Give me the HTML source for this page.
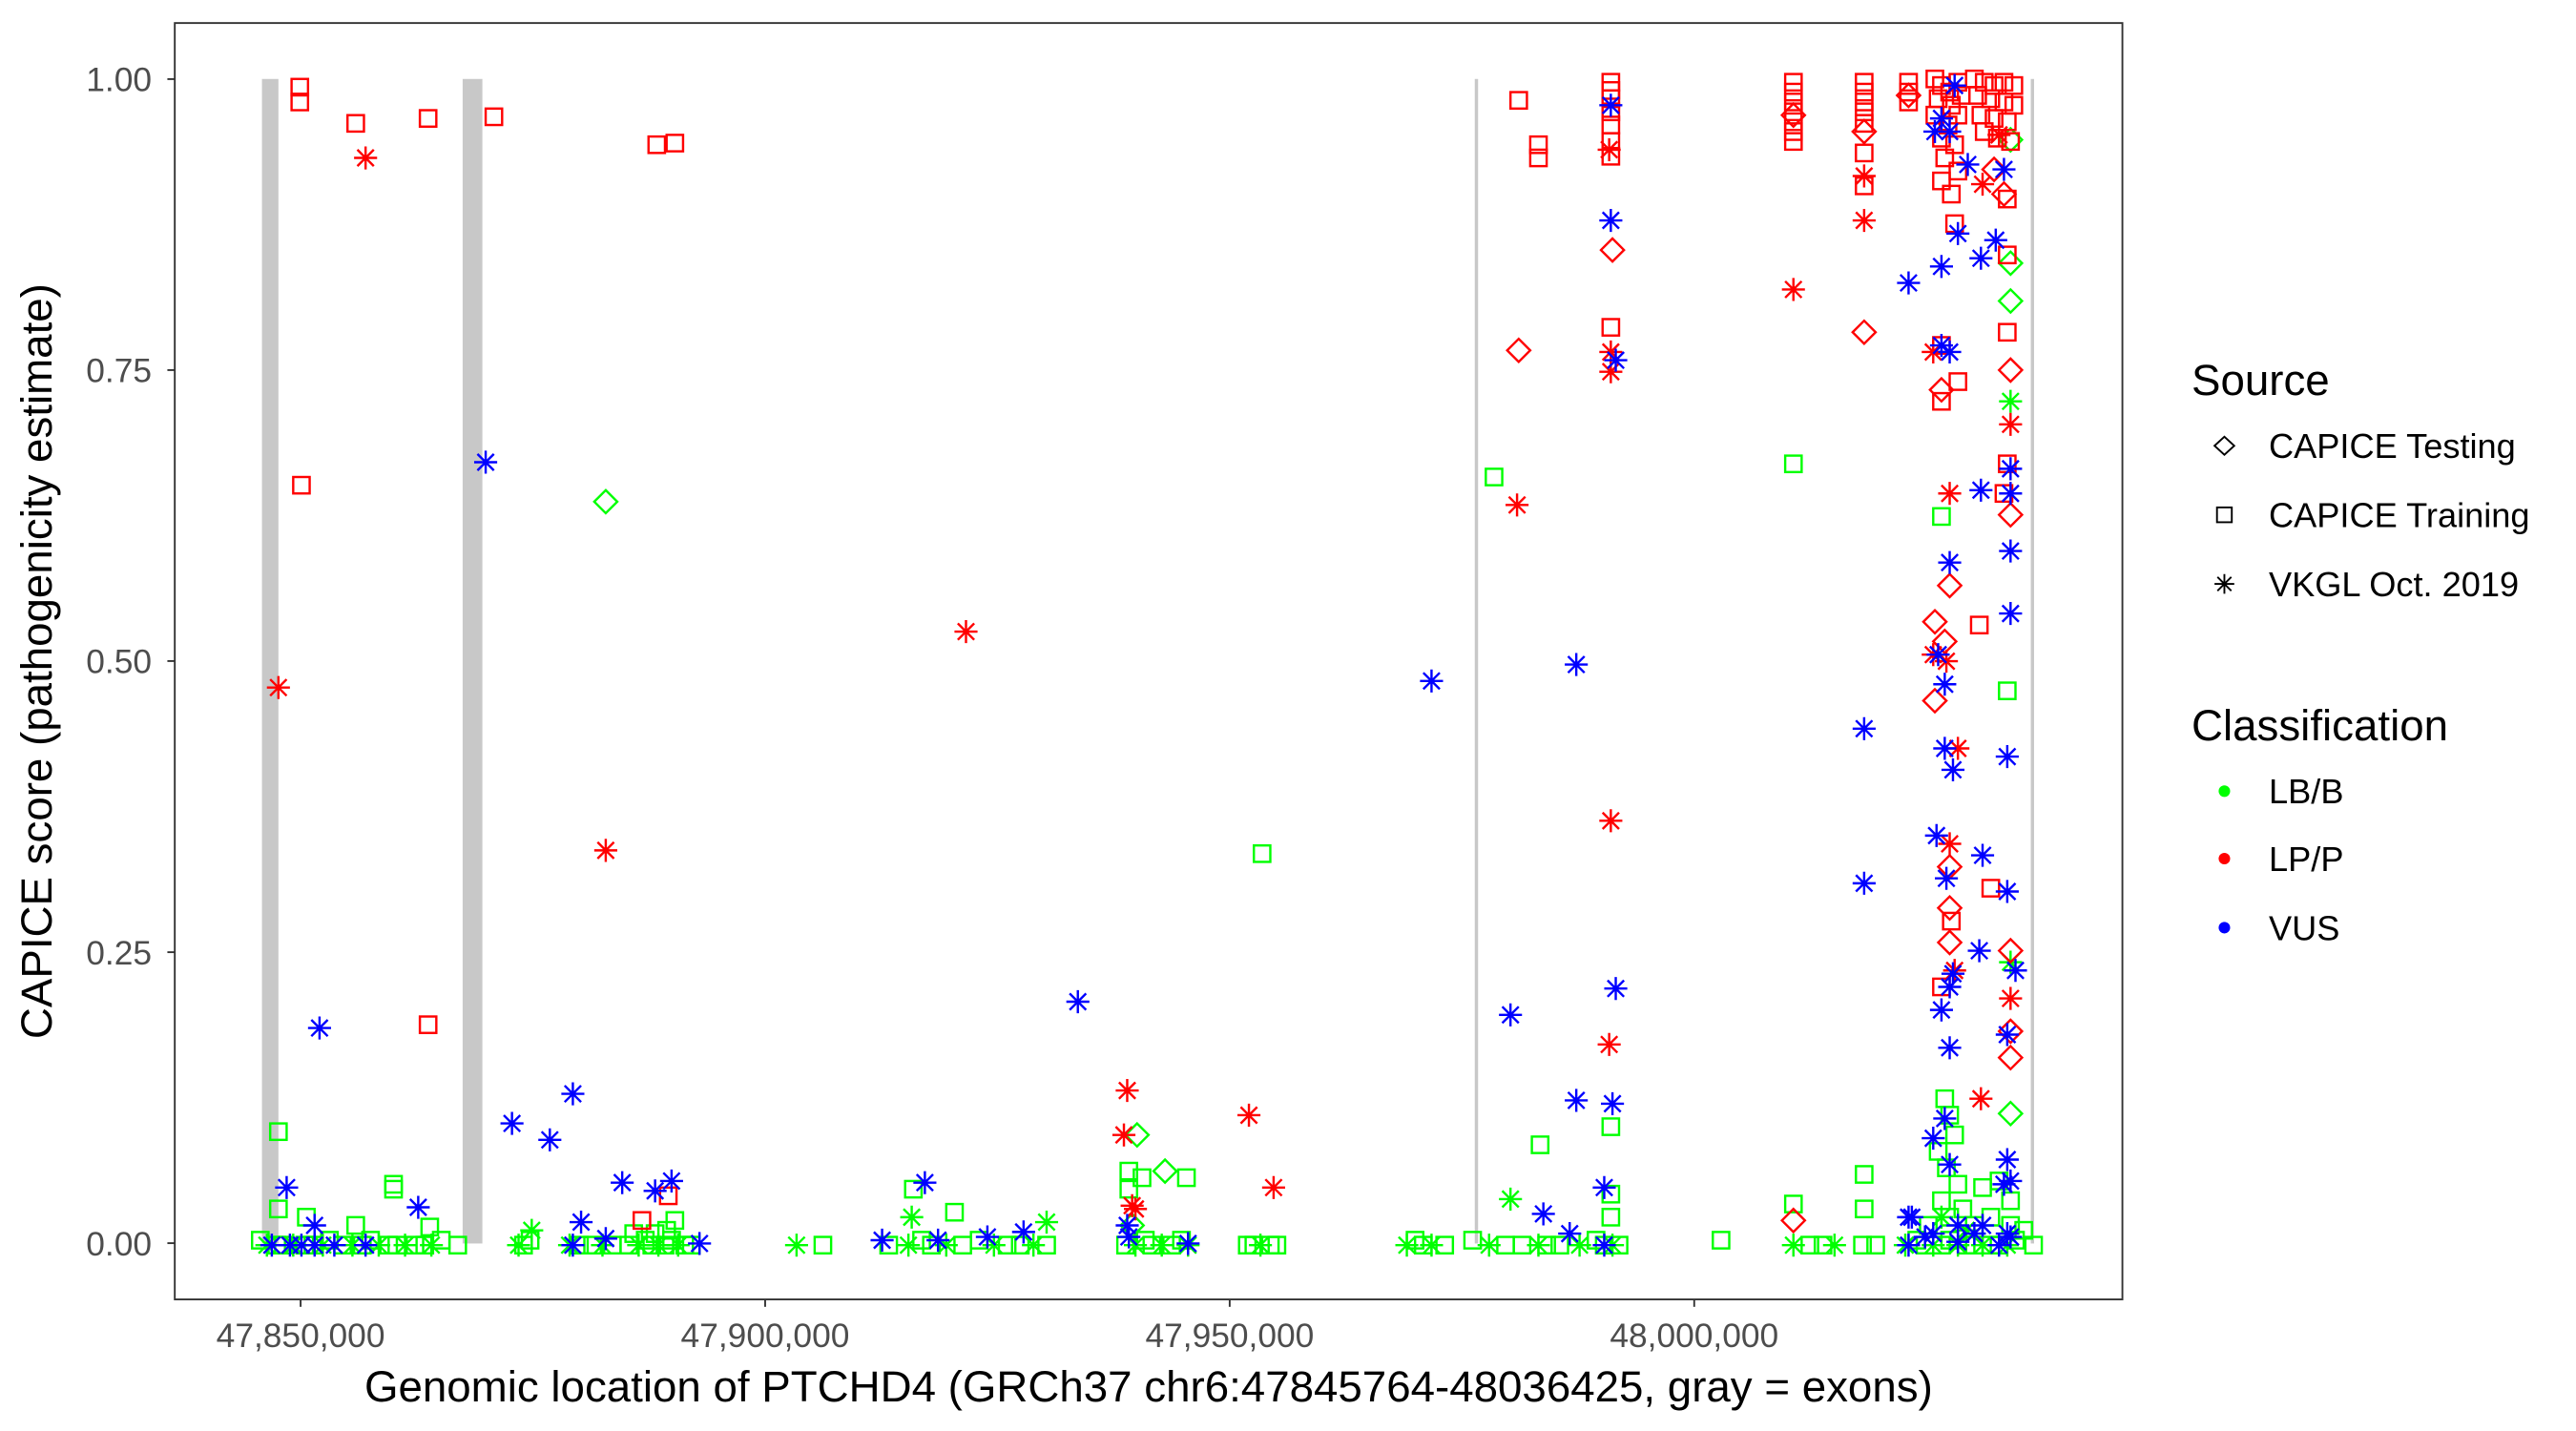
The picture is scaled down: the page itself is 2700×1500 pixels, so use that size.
<!DOCTYPE html>
<html><head><meta charset="utf-8">
<style>
html,body{margin:0;padding:0;background:#fff;}
svg{display:block;}
text{font-family:"Liberation Sans",Arial,sans-serif;}
</style></head>
<body>
<svg id="s" xmlns="http://www.w3.org/2000/svg" width="2700" height="1500" viewBox="0 0 1565.5 870">
<rect x="0" y="0" width="1565.5" height="870" fill="#fff"/>
<g fill="#c8c8c8">
<rect x="159" y="48" width="10" height="708"/>
<rect x="281" y="48" width="12" height="708"/>
<rect x="896.3" y="48" width="2" height="708"/>
<rect x="1234.3" y="48" width="2" height="708"/>
</g>
<g id="pts"></g>
<rect x="106" y="14" width="1184" height="776" fill="none" stroke="#333" stroke-width="1.1"/>
<g stroke="#333" stroke-width="1.1">
<line x1="101.5" x2="106" y1="48.1" y2="48.1"/>
<line x1="101.5" x2="106" y1="225" y2="225"/>
<line x1="101.5" x2="106" y1="401.9" y2="401.9"/>
<line x1="101.5" x2="106" y1="578.9" y2="578.9"/>
<line x1="101.5" x2="106" y1="755.8" y2="755.8"/>
<line x1="182.5" x2="182.5" y1="790" y2="794.5"/>
<line x1="464.9" x2="464.9" y1="790" y2="794.5"/>
<line x1="747.3" x2="747.3" y1="790" y2="794.5"/>
<line x1="1029.7" x2="1029.7" y1="790" y2="794.5"/>
</g>
<g fill="#4d4d4d" font-size="20.5" text-anchor="end">
<text x="92" y="55.5">1.00</text>
<text x="92" y="232.4">0.75</text>
<text x="92" y="409.3">0.50</text>
<text x="92" y="586.3">0.25</text>
<text x="92" y="763.2">0.00</text>
</g>
<g fill="#4d4d4d" font-size="20.5" text-anchor="middle">
<text x="182.5" y="819">47,850,000</text>
<text x="464.9" y="819">47,900,000</text>
<text x="747.3" y="819">47,950,000</text>
<text x="1029.7" y="819">48,000,000</text>
</g>
<text x="698" y="852" font-size="26.5" text-anchor="middle" fill="#000">Genomic location of PTCHD4 (GRCh37 chr6:47845764-48036425, gray = exons)</text>
<text transform="translate(31,402) rotate(-90)" font-size="26.5" text-anchor="middle" fill="#000">CAPICE score (pathogenicity estimate)</text>
<g fill="#000">
<text x="1332" y="240" font-size="26.5">Source</text>
<text x="1379" y="278.5" font-size="21">CAPICE Testing</text>
<text x="1379" y="320.5" font-size="21">CAPICE Training</text>
<text x="1379" y="362.5" font-size="21">VKGL Oct. 2019</text>
<text x="1332" y="450" font-size="26.5">Classification</text>
<text x="1379" y="488.5" font-size="21">LB/B</text>
<text x="1379" y="529.5" font-size="21">LP/P</text>
<text x="1379" y="571.5" font-size="21">VUS</text>
</g>
<g fill="none" stroke="#000" stroke-width="1.1">
<path d="M1346,271 L1352,265.5 L1358,271 L1352,276.5 Z"/>
<rect x="1347.5" y="308.5" width="9" height="9"/>
<path d="M1346,355 L1358,355 M1352,349 L1352,361 M1347.8,350.8 L1356.2,359.2 M1347.8,359.2 L1356.2,350.8"/>
</g>
<circle cx="1352" cy="481" r="3.5" fill="#00ff00"/>
<circle cx="1352" cy="522" r="3.5" fill="#ff0000"/>
<circle cx="1352" cy="564" r="3.5" fill="#0000ff"/>
</svg>
<script>
(function(){
var C={g:"#00ff00",r:"#ff0000",b:"#0000ff"};
var out=[];
function S(x,y,c){out.push('<rect x="'+(x-5)+'" y="'+(y-5)+'" width="10" height="10" fill="none" stroke="'+C[c]+'" stroke-width="1.4"/>');}
function D(x,y,c){out.push('<path d="M'+(x-7)+','+y+' L'+x+','+(y-7)+' L'+(x+7)+','+y+' L'+x+','+(y+7)+' Z" fill="none" stroke="'+C[c]+'" stroke-width="1.4"/>');}
function A(x,y,c){var r=7,d=5;out.push('<path d="M'+(x-r)+','+y+' L'+(x+r)+','+y+' M'+x+','+(y-r)+' L'+x+','+(y+r)+' M'+(x-d)+','+(y-d)+' L'+(x+d)+','+(y+d)+' M'+(x-d)+','+(y+d)+' L'+(x+d)+','+(y-d)+'" fill="none" stroke="'+C[c]+'" stroke-width="1.4"/>');}
var gb=[158,162,168,172,178,185,190,196,200,208,214,220,225,230,236,241,246,252,258,262,268,278,315,318,322,346,352,360,366,372,382,388,392,396,400,404,408,412,416,420,484,500,540,552,560,566,575,585,595,604,612,620,628,636,684,690,696,700,706,712,718,722,758,762,766,772,776,855,860,865,870,878,895,905,915,925,935,940,948,960,970,975,980,984,1046,1090,1100,1108,1115,1132,1140,1158,1165,1170,1175,1180,1185,1190,1195,1200,1205,1210,1215,1220,1225,1236];
gb.forEach(function(x,i){ if(i%3==1) A(x,757,'g'); else S(x,i%4==0?754:757,'g');});
[[169,688],[169,735],[186,740],[239,720],[239,723],[261,746],[216,745],[555,723],[580,737],[686,712],[686,723],[694,716],[721,716],[767,519],[908,290],[936,696],[979,685],[979,726],[979,740],[1090,282],[1090,732],[1133,714],[1133,735],[1180,314],[1220,420],[1182,668],[1185,678],[1188,690],[1178,700],[1183,710],[1190,720],[1180,730],[1185,740],[1193,735],[1205,722],[1210,740],[1215,718],[1222,730],[1200,745],[1222,745],[1172,745],[410,742],[405,748],[398,750],[385,750],[1230,748]].forEach(function(p){S(p[0],p[1],'g');});
[[323,748],[554,740],[636,743],[918,729],[1222,244],[1222,585],[1180,740],[1195,748]].forEach(function(p){A(p[0],p[1],'g');});
[[368,305],[691,690],[708,712],[1222,85],[1222,160],[1222,183],[1222,677],[688,745]].forEach(function(p){D(p[0],p[1],'g');});
[[182,53],[182,62],[216,75],[260,72],[300,71],[183,295],[260,623],[399,88],[410,87],[390,742],[406,727],[923,61],[935,88],[935,96],
[979,50],[979,55],[979,60],[979,68],[979,76],[979,86],[979,95],[979,199],
[1090,50],[1090,56],[1090,62],[1090,68],[1090,74],[1090,80],[1090,86],
[1133,50],[1133,56],[1133,62],[1133,68],[1133,75],[1133,93],[1133,113],
[1160,50],[1160,56],[1160,62],[1176,48],[1180,52],[1185,56],[1190,50],[1178,60],[1186,64],[1192,58],[1176,70],[1184,76],[1190,70],[1180,84],[1188,88],[1182,96],[1190,104],[1180,110],[1186,118],[1188,136],[1180,210],[1190,232],[1180,244],[1186,560],[1180,600],
[1200,48],[1206,50],[1212,52],[1218,50],[1224,52],[1202,58],[1210,60],[1218,62],[1224,64],[1204,70],[1212,72],[1220,74],[1206,80],[1214,84],[1222,86],[1203,380],[1220,121],[1220,155],[1220,202],[1220,282],[1218,300],[1210,540]].forEach(function(p){S(p[0],p[1],'r');});
[[923,213],[980,152],[1133,202],[1133,80],[1090,70],[1160,58],[1180,237],[1176,378],[1182,390],[1185,356],[1185,527],[1185,552],[1185,573],[1212,103],[1222,225],[1222,313],[1222,578],[1222,627],[1222,643],[1090,742],[1176,426],[1218,118]].forEach(function(p){D(p[0],p[1],'r');});
[[222,96],[169,418],[368,517],[587,384],[685,663],[683,690],[688,733],[690,735],[759,678],[774,722],[922,307],[979,499],[978,635],[978,91],[979,214],[979,226],[1090,176],[1133,107],[1133,134],[1175,398],[1205,112],[1215,82],[1175,214],[1185,300],[1190,455],[1204,668],[1222,607],[1222,258],[1183,402],[1188,590],[1185,513]].forEach(function(p){A(p[0],p[1],'r');});
[[295,281],[194,625],[174,722],[191,745],[254,734],[311,683],[334,693],[348,665],[353,743],[378,719],[398,724],[408,718],[425,756],[536,754],[562,719],[570,754],[600,752],[622,749],[655,609],[685,745],[686,752],[870,414],[918,617],[938,738],[958,669],[958,404],[975,722],[979,134],[980,671],[982,601],[982,219],[979,64],[722,756],
[1188,52],[1160,172],[1180,162],[1218,103],[1196,100],[1190,142],[1213,146],[1204,157],[1180,210],[1185,214],[1222,285],[1222,300],[1204,298],[1185,342],[1222,335],[1178,398],[1182,416],[1182,455],[1187,468],[1177,508],[1183,534],[1205,520],[1220,460],[1222,373],[1187,592],[1185,600],[1180,614],[1185,637],[1203,578],[1220,542],[1220,629],[1175,692],[1182,680],[1220,705],[1222,718],[1133,443],[1133,537],[1160,740],[1170,752],[1190,755],[1200,750],[1220,750],[1218,720],[1185,708],[1225,590],[1162,740],[1180,72],[1176,80],[1185,80],
[165,757],[176,757],[183,757],[191,757],[203,757],[222,757],[348,757],[368,753],[954,750],[975,757],[1160,757],[1175,750],[1190,745],[1205,745],[1215,757],[1222,752]].forEach(function(p){A(p[0],p[1],'b');});
document.getElementById('pts').innerHTML=out.join('');
})();
</script>
</body></html>
